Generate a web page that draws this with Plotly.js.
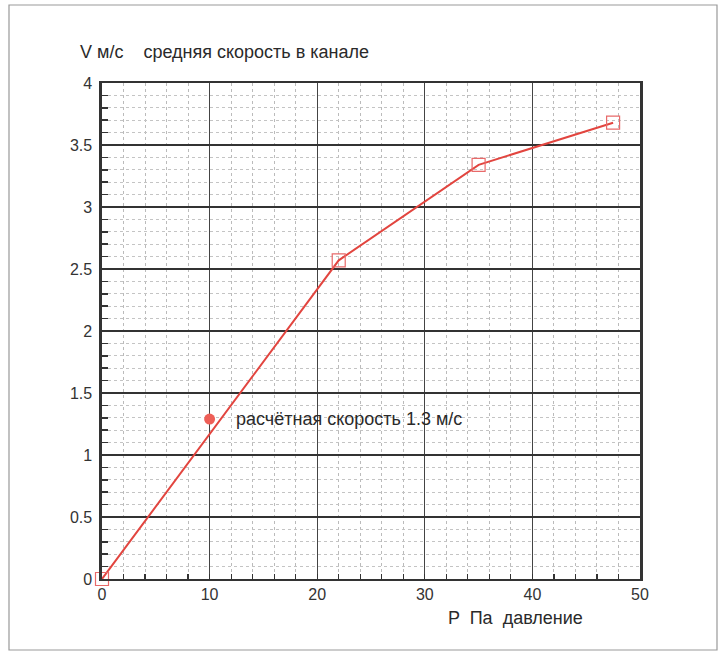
<!DOCTYPE html>
<html>
<head>
<meta charset="utf-8">
<script src="https://cdn.plot.ly/plotly-3.0.1.min.js"></script>
<style>html,body{margin:0;padding:0;background:#fff;}#chart{width:719px;height:652px;}</style>
</head>
<body>
<div id="chart"></div>
<script>
// Measured curve: pressure P (Pa) vs mean channel velocity V (m/s)
const pressure = [0, 22, 35, 47.5];
const velocity = [0, 2.57, 3.34, 3.68];
// Calculated point
const calcP = [10];
const calcV = [1.29];
const calcLabel = "расчётная скорость 1.3 м/с";
const xTicks = [0, 10, 20, 30, 40, 50];
const yTicks = [0, 0.5, 1, 1.5, 2, 2.5, 3, 3.5, 4];
const yTickText = ["0", "0.5", "1", "1.5", "2", "2.5", "3", "3.5", "4"];

const font = "Liberation Sans, Arial, sans-serif";

const traces = [
  {
    x: pressure, y: velocity, type: "scatter", mode: "lines+markers",
    line: {color: "#e2453f", width: 2},
    marker: {symbol: "square-open", size: 13, color: "#e86a6a", line: {width: 1.2, color: "#e86a6a"}},
    hoverinfo: "x+y", showlegend: false, cliponaxis: false
  },
  {
    x: calcP, y: calcV, type: "scatter", mode: "markers",
    marker: {symbol: "circle", size: 11, color: "#ee5f57"},
    showlegend: false, cliponaxis: false
  }
];

const layout = {
  width: 719, height: 652,
  margin: {l: 102, r: 79, t: 83, b: 73},
  paper_bgcolor: "#fff", plot_bgcolor: "#fff",
  font: {family: font, size: 15, color: "#333"},
  title: {
    text: "V м/с    средняя скорость в канале",
    x: 80/719, xanchor: "left", xref: "container",
    y: 1 - 52/652, yanchor: "middle", yref: "container",
    font: {family: font, size: 18, color: "#2a2a2a"}
  },
  xaxis: {
    range: [0, 50], tickvals: xTicks, ticktext: xTicks.map(String),
    showgrid: true, gridcolor: "#444", gridwidth: 1.2,
    zeroline: false, showline: true, linecolor: "#333", linewidth: 2.2, mirror: true,
    ticks: "inside", ticklen: 0, tickfont: {size: 16, color: "#333"},
    minor: {dtick: 2, tick0: 0, showgrid: true, gridcolor: "#bbb", griddash: "dot", gridwidth: 1,
            ticks: "inside", ticklen: 5, tickcolor: "#333", tickwidth: 1.2},
    fixedrange: true
  },
  yaxis: {
    range: [0, 4], tickvals: yTicks, ticktext: yTickText,
    showgrid: true, gridcolor: "#333", gridwidth: 1.2,
    zeroline: false, showline: true, linecolor: "#333", linewidth: 2.6, mirror: true,
    ticks: "inside", ticklen: 0, ticklabelstandoff: 4, tickfont: {size: 16, color: "#333"},
    minor: {dtick: 0.1, tick0: 0, showgrid: true, gridcolor: "#c4c4c4", griddash: "dot", gridwidth: 1,
            ticks: "inside", ticklen: 6, tickcolor: "#333", tickwidth: 1.5},
    fixedrange: true
  },
  annotations: [
    {x: 12.3, y: 1.29, xref: "x", yref: "y", text: calcLabel, showarrow: false,
     xanchor: "left", yanchor: "middle", font: {family: font, size: 18, color: "#2a2a2a"}},
    {x: (515-102)/538, y: (579-618)/496, xref: "paper", yref: "paper", text: "P  Па  давление", showarrow: false,
     xanchor: "center", yanchor: "middle", font: {family: font, size: 18, color: "#2a2a2a"}}
  ],
  shapes: [
    {type: "rect", xref: "paper", yref: "paper",
     x0: (9-102)/538, x1: (717-102)/538, y0: (579-650)/496, y1: (579-5)/496,
     line: {color: "#999", width: 1.2}, fillcolor: "rgba(0,0,0,0)", layer: "below"}
  ]
};

Plotly.newPlot("chart", traces, layout, {displayModeBar: false, staticPlot: true});
</script>
</body>
</html>
